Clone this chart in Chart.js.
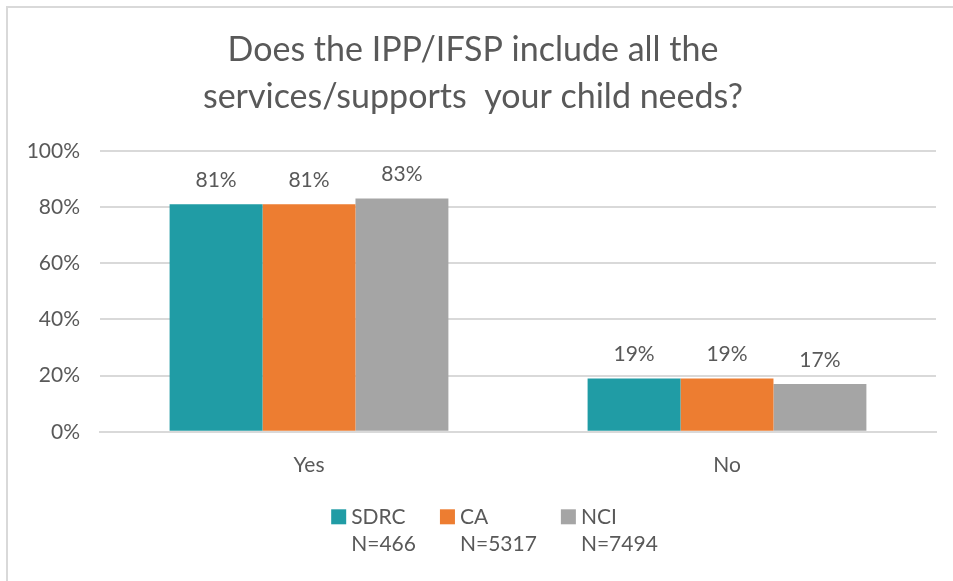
<!DOCTYPE html>
<html>
<head>
<meta charset="utf-8">
<script src="https://cdn.jsdelivr.net/npm/chart.js@4.4.1/dist/chart.umd.min.js"></script>
<style>
  body { margin: 0; background: #fff; }
  #wrap { position: relative; width: 953px; height: 581px; }
  #frame { position: absolute; left: 6px; top: 6px; right: -10px; bottom: -10px; border-top: 2px solid #d9d9d9; border-left: 2px solid #d9d9d9; }
  canvas { position: absolute; left: 0; top: 0; }
</style>
</head>
<body>
<div id="wrap">
  <div id="frame"></div>
  <canvas id="chart" width="953" height="581"></canvas>
</div>
<script>
const categories = ["Yes", "No"];
const seriesNames = ["SDRC", "CA", "NCI"];
const seriesN = ["N=466", "N=5317", "N=7494"];
const sdrcValues = [81, 19];
const caValues = [81, 19];
const nciValues = [83, 17];
const yTicks = [0, 20, 40, 60, 80, 100];
const colors = ["#209CA5", "#ED7D31", "#A5A5A5"];

const textColor = "#595959";
const fontFamily = "Lato, 'Open Sans', sans-serif";

// etiquetas encima de cada barra
const barLabels = {
    id: "barLabels",
    afterDatasetsDraw(chart) {
        const ctx = chart.ctx;
        ctx.save();
        ctx.font = "21px " + fontFamily;
        ctx.fillStyle = textColor;
        ctx.textAlign = "center";
        ctx.textBaseline = "middle";
        chart.data.datasets.forEach((ds, i) => {
            chart.getDatasetMeta(i).data.forEach((bar, j) => {
                ctx.fillText(ds.data[j] + "%", bar.x, bar.y - 24);
            });
        });
        ctx.restore();
    }
};

// leyenda de dos lineas (nombre + N) abajo
const twoLineLegend = {
    id: "twoLineLegend",
    afterDraw(chart) {
        const ctx = chart.ctx;
        ctx.save();
        ctx.font = "21px " + fontFamily;
        const box = 15, gap = 5, spacing = 24;
        const widths = seriesNames.map((n, i) =>
            box + gap + Math.max(ctx.measureText(n).width, ctx.measureText(seriesN[i]).width));
        const total = widths.reduce((a, b) => a + b, 0) + spacing * (widths.length - 1);
        let x = chart.width / 2 + 18 - total / 2;
        const y1 = chart.chartArea.bottom + 85;
        const y2 = y1 + 27;
        ctx.textBaseline = "middle";
        ctx.textAlign = "left";
        seriesNames.forEach((n, i) => {
            ctx.fillStyle = colors[i];
            ctx.fillRect(x, y1 - box / 2, box, box);
            ctx.fillStyle = textColor;
            ctx.fillText(n, x + box + gap, y1);
            ctx.fillText(seriesN[i], x + box + gap, y2);
            x += widths[i] + spacing;
        });
        ctx.restore();
    }
};

const ctx = document.querySelector("#chart");
new Chart(ctx, {
    type: "bar",
    data: {
        labels: categories,
        datasets: [
            { label: seriesNames[0], data: sdrcValues, backgroundColor: colors[0] },
            { label: seriesNames[1], data: caValues, backgroundColor: colors[1] },
            { label: seriesNames[2], data: nciValues, backgroundColor: colors[2] }
        ]
    },
    options: {
        responsive: false,
        animation: false,
        categoryPercentage: 0.667,
        barPercentage: 1,
        layout: { padding: { left: 10, right: 17, top: 0, bottom: 90 } },
        plugins: {
            title: {
                display: true,
                text: ["Does the IPP/IFSP include all the", "services/supports  your child needs?"],
                color: textColor,
                font: { family: fontFamily, size: 34, weight: "normal", lineHeight: 1.38 },
                padding: { top: 27, bottom: 30 }
            },
            legend: { display: false },
            tooltip: { enabled: false }
        },
        scales: {
            x: {
                grid: { display: false },
                border: { color: "#d9d9d9", width: 2 },
                ticks: { color: textColor, font: { family: fontFamily, size: 21 }, padding: 13 }
            },
            y: {
                min: 0,
                max: 100,
                afterBuildTicks(scale) {
                    scale.ticks = yTicks.map(v => ({ value: v }));
                },
                afterFit(scale) { scale.width = 90; },
                grid: { color: "#d9d9d9", lineWidth: 2, drawTicks: false },
                border: { display: false },
                ticks: {
                    color: textColor,
                    font: { family: fontFamily, size: 21 },
                    padding: 20,
                    callback: v => v + "%"
                }
            }
        }
    },
    plugins: [barLabels, twoLineLegend]
});
</script>
</body>
</html>
